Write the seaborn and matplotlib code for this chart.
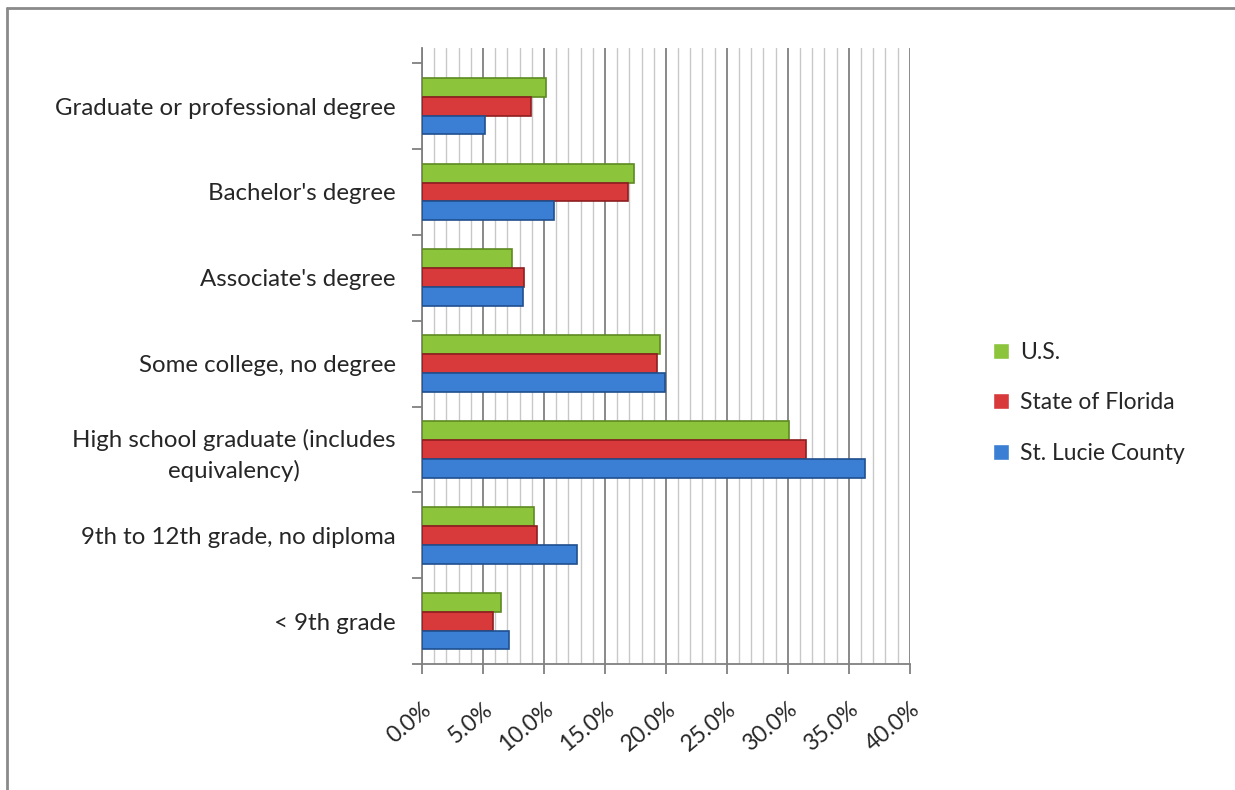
import pandas as pd
import matplotlib.pyplot as plt
import seaborn as sns
from matplotlib.ticker import MultipleLocator, FuncFormatter

# Educational attainment, % of population 25+
categories = ['Graduate or professional degree', "Bachelor's degree", "Associate's degree",
              'Some college, no degree', 'High school graduate (includes\nequivalency)',
              '9th to 12th grade, no diploma', '< 9th grade']
series = ['U.S.', 'State of Florida', 'St. Lucie County']
us = [10.2, 17.4, 7.4, 19.5, 30.1, 9.2, 6.5]
florida = [8.9, 16.9, 8.4, 19.3, 31.5, 9.4, 5.8]
st_lucie = [5.2, 10.8, 8.3, 19.9, 36.3, 12.7, 7.1]
colors = ['#8cc43c', '#d83a3c', '#3a7fd4']
edges = ['#5e8a22', '#8e1e20', '#1f4f8f']

df = pd.DataFrame({'Category': categories * 3,
                   'Series': [s for s in series for _ in categories],
                   'Value': us + florida + st_lucie})

sns.set_style('white')
plt.rcParams['font.family'] = ['Lato', 'DejaVu Sans']

fig = plt.figure(figsize=(12.35, 7.9), dpi=100)
ax = fig.add_axes([0.3417, 0.1595, 0.395, 0.78])

sns.barplot(data=df, y='Category', x='Value', hue='Series', hue_order=series,
            order=categories, palette=colors, orient='h', width=0.66,
            saturation=1, ax=ax, zorder=3)

# darker outlines like the shaded 3D bars
for cont, ec in zip(ax.containers, edges):
    for bar in cont:
        bar.set_edgecolor(ec)
        bar.set_linewidth(1.2)

ax.set_xlim(0, 40)
ax.set_ylim(6.5, -0.68)
ax.xaxis.set_major_locator(MultipleLocator(5))
ax.xaxis.set_minor_locator(MultipleLocator(1))
ax.xaxis.set_major_formatter(FuncFormatter(lambda v, p: f'{v:.1f}%'))
ax.grid(axis='x', which='major', color='#808080', linewidth=1.3, zorder=0)
ax.grid(axis='x', which='minor', color='#c8c8c8', linewidth=1.0, zorder=0)
ax.set_axisbelow(True)

# category boundaries get the tick marks, labels sit between
ax.set_yticks([i + 0.5 for i in range(-1, 7)], minor=True)
ax.tick_params(axis='y', which='minor', length=7, color='#808080', width=1.3, left=True)
ax.tick_params(axis='y', which='major', length=0, pad=19, labelsize=17.3)
for t in ax.get_yticklabels():
    t.set_multialignment('center')
    t.set_linespacing(1.45)
ax.tick_params(axis='x', which='major', length=7, color='#808080', width=1.3,
               bottom=True, labelsize=16.5, pad=18)
for t in ax.get_xticklabels():
    t.set_rotation(40)
    t.set_ha('right')
    t.set_rotation_mode('anchor')

ax.set_xlabel('')
ax.set_ylabel('')
for s in ['top', 'right']:
    ax.spines[s].set_visible(False)
for s in ['left', 'bottom']:
    ax.spines[s].set_color('#808080')
    ax.spines[s].set_linewidth(1.3)

# legend order as in the original (U.S. on top)
handles, labels = ax.get_legend_handles_labels()
ax.legend(handles, labels, loc='center left', bbox_to_anchor=(0.787, 0.49),
          bbox_transform=fig.transFigure, frameon=False, fontsize=16.5,
          handlelength=0.7, handleheight=0.7, handletextpad=0.5, labelspacing=1.3)

# outer frame of the chart image
fig.add_artist(plt.Line2D([0.0057, 0.0057], [0, 0.99], transform=fig.transFigure,
                          color='#8a8a8a', linewidth=2))
fig.add_artist(plt.Line2D([0.0057, 1], [0.99, 0.99], transform=fig.transFigure,
                          color='#8a8a8a', linewidth=2))

fig.savefig('out.png', dpi=100)
